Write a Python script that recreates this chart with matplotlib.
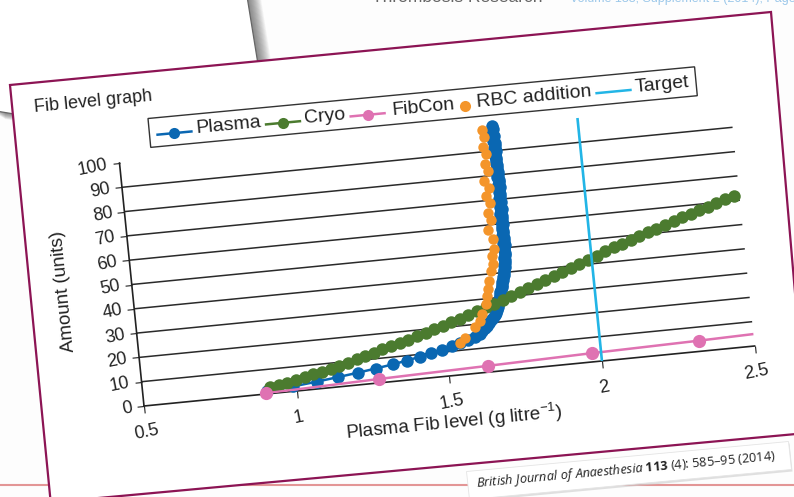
import matplotlib
matplotlib.use("Agg")
import matplotlib.pyplot as plt
import numpy as np
from matplotlib.patches import Polygon
from matplotlib.transforms import Affine2D
import mpl_toolkits.axisartist.floating_axes as floating_axes
from mpl_toolkits.axisartist.grid_finder import FixedLocator, DictFormatter

plt.rcParams['font.family'] = ['Liberation Sans', 'DejaVu Sans']
plt.rcParams['mathtext.fontset'] = 'custom'
plt.rcParams['mathtext.rm'] = 'Open Sans'
plt.rcParams['mathtext.it'] = 'Open Sans:italic'
plt.rcParams['mathtext.bf'] = 'Open Sans:bold'

# fibrinogen level (g/l) after each plasma unit
plasma_units = list(range(1, 101))
plasma_fib = [0.905, 0.990, 1.068, 1.139, 1.204, 1.264, 1.320, 1.368, 1.410, 1.448,
              1.485, 1.518, 1.547, 1.574, 1.597, 1.612, 1.622, 1.630, 1.638, 1.647,
              1.655, 1.661, 1.667, 1.671, 1.675, 1.679, 1.682, 1.685, 1.687, 1.689,
              1.691, 1.693, 1.696, 1.699, 1.701, 1.703, 1.705, 1.707, 1.709, 1.711,
              1.713, 1.716, 1.713, 1.717, 1.719, 1.716, 1.719, 1.721, 1.717, 1.720,
              1.722, 1.718, 1.721, 1.723, 1.718, 1.721, 1.723, 1.718, 1.721, 1.723,
              1.719, 1.722, 1.724, 1.719, 1.722, 1.724, 1.719, 1.722, 1.724, 1.720,
              1.723, 1.725, 1.720, 1.723, 1.725, 1.720, 1.723, 1.725, 1.720, 1.723,
              1.725, 1.720, 1.723, 1.725, 1.720, 1.723, 1.724, 1.719, 1.722, 1.724,
              1.719, 1.722, 1.723, 1.718, 1.721, 1.722, 1.717, 1.720, 1.721, 1.719]

cryo_fib = [0.915, 0.944, 0.973, 1.002, 1.031, 1.060, 1.089, 1.118, 1.147, 1.176,
            1.205, 1.234, 1.263, 1.292, 1.321, 1.350, 1.379, 1.408, 1.437, 1.466,
            1.495, 1.524, 1.553, 1.582, 1.611, 1.640, 1.669, 1.698, 1.727, 1.756,
            1.785, 1.814, 1.843, 1.872, 1.901, 1.930, 1.959, 1.988, 2.017, 2.046,
            2.075, 2.104, 2.133, 2.162, 2.191, 2.220, 2.249, 2.278, 2.307, 2.336,
            2.365, 2.394, 2.423, 2.452, 2.481]
cryo_units = [2.6, 3.2, 3.8, 4.5, 5.3, 6.1, 6.9, 7.7, 8.6, 9.5,
              10.5, 11.5, 12.5, 13.5, 14.5, 15.5, 16.5, 17.5, 18.6, 19.7,
              20.8, 21.9, 23.0, 24.1, 25.3, 26.5, 27.7, 28.9, 30.2, 31.5,
              32.8, 34.1, 35.4, 36.7, 38.0, 39.3, 40.6, 41.9, 43.2, 44.5,
              45.8, 47.0, 48.2, 49.4, 50.6, 51.8, 53.0, 54.2, 55.3, 56.4,
              57.5, 58.6, 59.8, 60.9, 62.1]

fibcon_fib = [0.90, 1.27, 1.63, 1.97, 2.32, 2.67]
fibcon_units = [0.3, 1.6, 2.6, 3.6, 4.4, 5.4]

rbc_fib = [1.546, 1.565, 1.600, 1.617, 1.625, 1.642, 1.648, 1.655, 1.661, 1.669,
           1.677, 1.677, 1.688, 1.688, 1.674, 1.686, 1.680, 1.689, 1.678, 1.691,
           1.677, 1.693, 1.685, 1.691, 1.685, 1.691, 1.686]
rbc_units = [13, 15, 19, 21, 24, 28, 31, 34, 37, 41,
             44, 47, 50, 54, 58, 62, 65, 69, 72, 75,
             78, 82, 85, 89, 92, 96, 99]

target_fib = [2.0, 2.0]
target_units = [0, 100]

x_ticks = [0.5, 1, 1.5, 2, 2.5]
x_labels = ['0.5', '1', '1.5', '2', '2.5']
y_ticks = list(range(0, 101, 10))
y_labels = [str(v) for v in y_ticks]

C_PLASMA = '#0a67b2'
C_CRYO = '#4b7b2f'
C_FIBCON = '#df72b2'
C_RBC = '#f4952a'
C_TARGET = '#22b5e6'
TILT = 5.6

W, H = 794, 497
fig = plt.figure(figsize=(W / 100, H / 100), dpi=100)
fig.patch.set_facecolor('#fdfdfd')

# backdrop in pixel coordinates (y down)
bg = fig.add_axes([0, 0, 1, 1])
bg.set_xlim(0, W)
bg.set_ylim(H, 0)
bg.axis('off')

# slide page behind, with its drop shadow
page = [(-10, -10), (246, -10), (273, 157), (-10, 110)]
for k in range(1, 16):
    sh = [(x + k, y + k * 0.6) for x, y in page]
    bg.add_patch(Polygon(sh, closed=True, fc='#404040', ec='none', alpha=0.055, zorder=1))
bg.add_patch(Polygon(page, closed=True, fc='white', ec='#666666', lw=0.9, zorder=2))

bg.text(372, 2.5, 'Thrombosis Research', fontsize=12.5, color='#666666',
        ha='left', va='baseline', zorder=2)
bg.text(570, 2.0, 'Volume 133, Supplement 2 (2014), Pages S1\u2013S8', fontsize=9,
        color='#9cc8ea', ha='left', va='baseline', zorder=2)

bg.plot([0, W], [484.5, 484.5], color='#e39696', lw=1.5, zorder=2)

# the card holding the chart
card = [(10, 85), (771, 12), (807, 433), (50.7, 502.4)]
bg.add_patch(Polygon(card, closed=True, fc='white', ec='#8c1454', lw=1.6, zorder=3))

bg.text(35, 112, 'Fib level graph', fontsize=13, color='#222222', rotation=5.5,
        rotation_mode='anchor', ha='left', va='baseline', zorder=6)

# legend drawn in a frame tilted like the chart
theta = np.deg2rad(5.4)
ux, uy = np.cos(theta), -np.sin(theta)
vx, vy = np.sin(theta), np.cos(theta)
lx0, ly0 = 148, 118.5


def lg(s, t):
    return lx0 + s * ux + t * vx, ly0 + s * uy + t * vy


box = [lg(0, 0), lg(549, 0), lg(549, 29), lg(0, 29)]
bg.add_patch(Polygon(box, closed=True, fc='white', ec='#333333', lw=1.0, zorder=6))
legend_items = [('Plasma', C_PLASMA, 'both', 8, 47),
                ('Cryo', C_CRYO, 'both', 117, 155),
                ('FibCon', C_FIBCON, 'both', 202, 244),
                ('RBC addition', C_RBC, 'dot', 310, 329),
                ('Target', C_TARGET, 'line', 449, 488)]
for label, color, kind, hs, ts in legend_items:
    if kind in ('both', 'line'):
        (x1, y1), (x2, y2) = lg(hs, 17), lg(hs + 34, 17)
        bg.plot([x1, x2], [y1, y2], color=color, lw=1.8, zorder=7)
    if kind in ('both', 'dot'):
        mx, my = lg(hs + 17 if kind == 'both' else hs + 7, 17)
        bg.plot([mx], [my], 'o', color=color, ms=8, mew=0, zorder=7)
    tx, ty = lg(ts, 19.5)
    bg.text(tx, ty, label, fontsize=14, color='#222222', rotation=5.4,
            rotation_mode='anchor', ha='left', va='baseline', zorder=7)

# citation tag at the bottom
cite_box = [(466.5, 471.5), (788.5, 441.5), (791.5, 469.5), (469.5, 499.5)]
bg.add_patch(Polygon([(x + 1, y + 2) for x, y in cite_box], closed=True,
                     fc='#cccccc', ec='none', alpha=0.6, zorder=4))
bg.add_patch(Polygon(cite_box, closed=True, fc='white', ec='#e4e4e4', lw=0.6, zorder=5))
bg.text(477, 487.5,
        r'$\mathit{British\ Journal\ of\ Anaesthesia}$ $\mathbf{113}$ (4): 585' + '\u2013' + '95 (2014)',
        family='Open Sans', fontsize=9.2, color='#222222', rotation=5.2,
        rotation_mode='anchor', ha='left', va='baseline', zorder=6)

# tilted chart: data -> pixel (y up)
tr = Affine2D.from_values(305.3, 30.0, -0.245, 2.43, -8.65, 76.0)
helper = floating_axes.GridHelperCurveLinear(
    tr, extremes=(0.5, 2.5, 0, 100),
    grid_locator1=FixedLocator(x_ticks),
    grid_locator2=FixedLocator(y_ticks),
    tick_formatter1=DictFormatter(dict(zip(x_ticks, x_labels))),
    tick_formatter2=DictFormatter(dict(zip(y_ticks, y_labels))))
ax = fig.add_axes([0, 0, 1, 1], axes_class=floating_axes.FloatingAxes,
                  grid_helper=helper)
ax.set_xlim(0, W)
ax.set_ylim(0, H)
ax.patch.set_facecolor('white')

ax.axis['top'].set_visible(False)
ax.axis['right'].set_visible(False)
for name in ('left', 'bottom'):
    axis = ax.axis[name]
    axis.line.set_color('#222222')
    axis.line.set_linewidth(1.2)
    axis.major_ticks.set_tick_out(True)
    axis.major_ticks.set_ticksize(5)
    axis.major_ticks.set_color('#222222')
    axis.major_ticklabels.set_fontsize(13)
    axis.major_ticklabels.set_color('#222222')
    axis.label.set_fontsize(13.5)
    axis.label.set_color('#222222')
ax.axis['bottom'].major_ticklabels.set_rotation(TILT)
ax.axis['left'].major_ticklabels.set_rotation(90 + TILT)
ax.axis['bottom'].major_ticklabels.set_pad(8)
ax.axis['bottom'].label.set_pad(2.5)
ax.axis['left'].label.set_pad(13)
ax.axis['bottom'].label.set_text(r'Plasma Fib level (g litre$^{\mathregular{-1}}$)')
ax.axis['left'].label.set_text('Amount (units)')
ax.grid(True, axis='y', color='#2a2a2a', linewidth=1.1)

aux = ax.get_aux_axes(tr)
aux.patch = ax.patch
ax.patch.zorder = 0.9

aux.plot(plasma_fib, plasma_units, color=C_PLASMA, lw=1.8, marker='o', ms=9, mew=0,
         clip_on=False, zorder=3)
aux.plot(cryo_fib, cryo_units, color=C_CRYO, lw=1.8, marker='o', ms=9, mew=0,
         clip_on=False, zorder=4)
aux.plot(fibcon_fib, fibcon_units, color=C_FIBCON, lw=1.8, zorder=5)
shown = [i for i, f in enumerate(fibcon_fib) if f <= x_ticks[-1]]
aux.plot([fibcon_fib[i] for i in shown], [fibcon_units[i] for i in shown], 'o',
         color=C_FIBCON, ms=9.5, mew=0, clip_on=False, zorder=5)
aux.plot(rbc_fib, rbc_units, 'o', color=C_RBC, ms=7.5, mew=0, clip_on=False, zorder=6)
aux.plot(target_fib, target_units, color=C_TARGET, lw=1.9, zorder=7)

fig.savefig('out.png', dpi=100, facecolor=fig.get_facecolor())
